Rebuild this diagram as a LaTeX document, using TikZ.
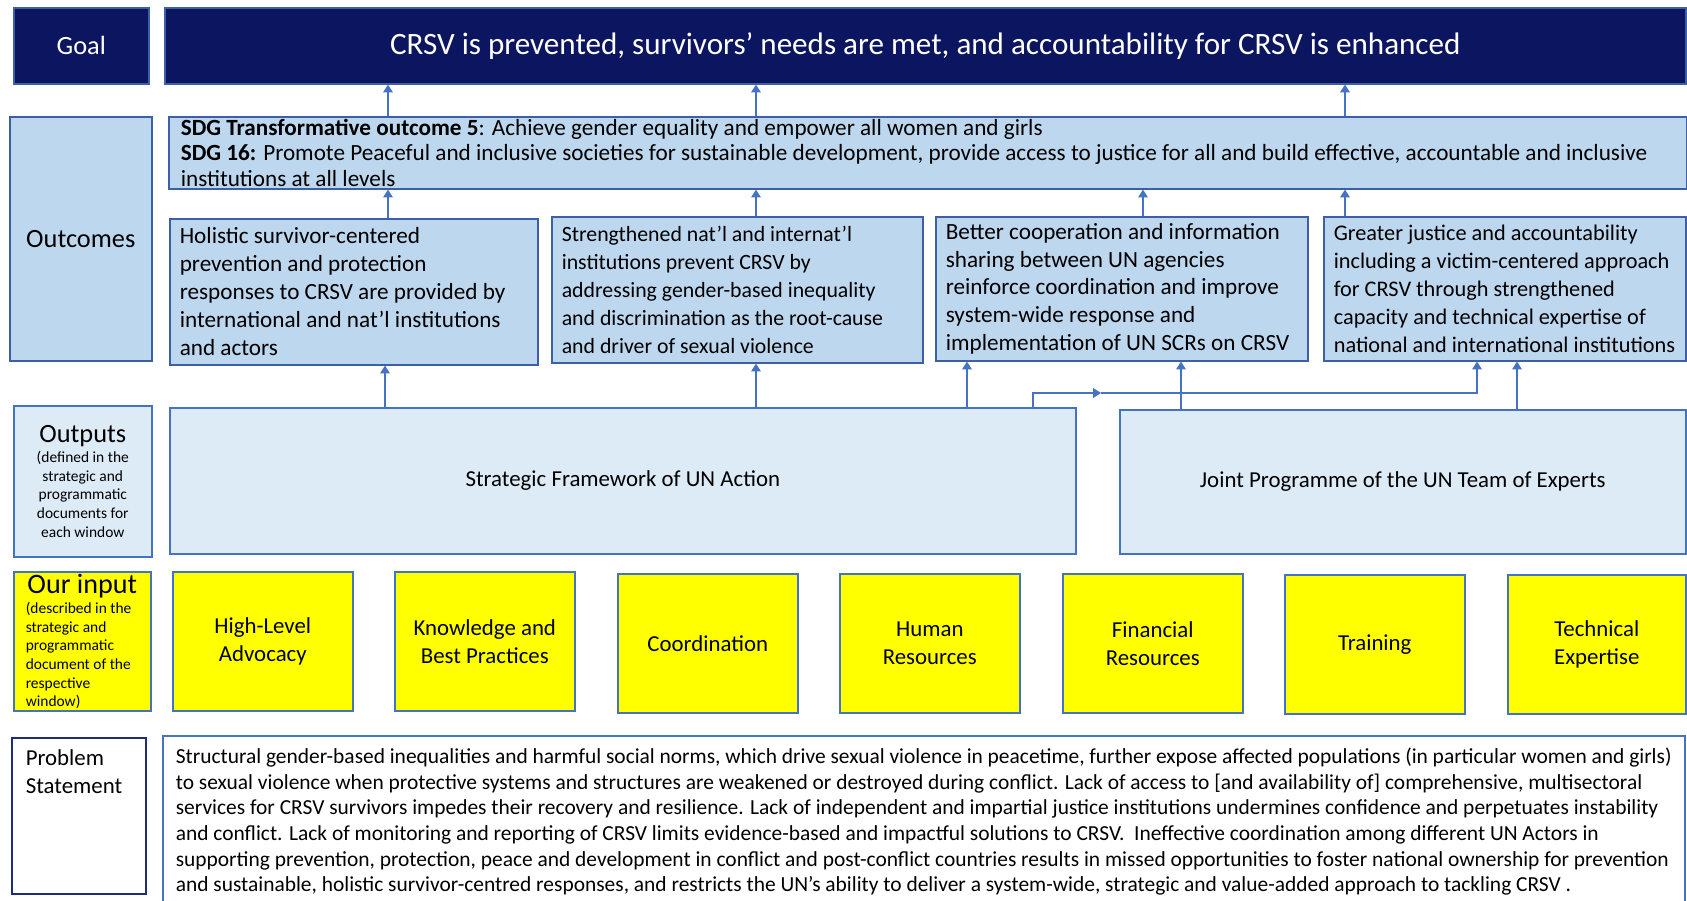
\documentclass[tikz,border=0pt]{standalone}
\usepackage{fontspec}
\setmainfont{Carlito}
\usetikzlibrary{positioning}
\usetikzlibrary{arrows.meta}

\definecolor{goalnavy}{HTML}{0B1560}
\definecolor{edgeblue}{HTML}{3D5FA6}
\definecolor{arrowblue}{HTML}{4472C4}
\definecolor{outcomefill}{HTML}{BDD7EE}
\definecolor{outputfill}{HTML}{DDEBF7}
\definecolor{inputfill}{HTML}{FFFF00}
\definecolor{labelnavy}{HTML}{1F2C7C}

% one pixel of the reference
\newdimen\pxu \pxu=0.02cm

\newcommand{\bigfont}{\fontsize{15pt}{18pt}\selectfont}
\newcommand{\smallfont}{\fontsize{8.8pt}{10.6pt}\selectfont}

\begin{document}
\begin{tikzpicture}[x=\pxu,y=-\pxu,
% Box styles
    panel/.style={rectangle,draw=edgeblue,line width=0.9pt,anchor=north west,
		inner sep=0pt,text=black},
    goalbox/.style={panel,fill=goalnavy,text=white,align=center,minimum height=76\pxu},
    outcomebox/.style={panel,fill=outcomefill,align=flush left,inner xsep=10\pxu,
		font={\fontsize{13.2pt}{15.9pt}\selectfont}},
    outputbox/.style={panel,draw=arrowblue,fill=outputfill,align=center},
    inputbox/.style={panel,draw=arrowblue,fill=inputfill,align=center,
		minimum width=180\pxu,minimum height=139\pxu},
    problembox/.style={panel,draw=arrowblue,fill=white,align=flush left},
% Arrow style
    link/.style={draw=arrowblue,line width=0.85pt,-{Triangle[width=5.5pt,length=4.5pt]}},
    font={\fontsize{13pt}{15.9pt}\selectfont}
    ]
  \useasboundingbox (0,0) rectangle (1687,901);
  \clip (0,0) rectangle (1687,901);

  % Goal
  \node (goallab) [goalbox,minimum width=135\pxu] at (13,7) {\bigfont Goal};
  \node (goal) [goalbox,minimum width=1521\pxu] at (164,7)
    {\fontsize{17.7pt}{21pt}\selectfont CRSV is prevented, survivors’ needs are met, and accountability for CRSV is enhanced};

  % Outcomes
  \node (outclab) [outcomebox,align=center,inner xsep=0pt,minimum width=142\pxu,minimum height=244\pxu,font=\bigfont] at (9,116) {Outcomes};
  \node (sdg) [outcomebox,text width=1494\pxu,inner xsep=12\pxu,minimum height=72\pxu,font={\fontsize{13.2pt}{14.6pt}\selectfont}] at (168,116)
    {\textbf{SDG Transformative outcome 5}: Achieve gender equality and empower all women and girls\\
     \textbf{SDG 16:} Promote Peaceful and inclusive societies for sustainable development, provide access to justice for all and build effective, accountable and inclusive\\
     institutions at all levels};
  \node (oc1) [outcomebox,text width=348\pxu,minimum height=146\pxu] at (169,218)
    {Holistic survivor-centered\\prevention and protection\\responses to CRSV are provided by\\international and nat’l institutions\\and actors};
  \node (oc2) [outcomebox,text width=351\pxu,minimum height=146\pxu,font={\fontsize{12.4pt}{15.9pt}\selectfont}] at (551,216)
    {Strengthened nat’l and internat’l\\institutions prevent CRSV by\\addressing gender-based inequality\\and discrimination as the root-cause\\and driver of sexual violence};
  \node (oc3) [outcomebox,text width=352\pxu,minimum height=144\pxu] at (935,216)
    {Better cooperation and information\\sharing between UN agencies\\reinforce coordination and improve\\system-wide response and\\implementation of UN SCRs on CRSV};
  \node (oc4) [outcomebox,text width=342\pxu,minimum height=144\pxu,font={\fontsize{12.7pt}{15.9pt}\selectfont}] at (1323,216)
    {Greater justice and accountability\\including a victim-centered approach\\for CRSV through strengthened\\capacity and technical expertise of\\national and international institutions};

  % Outputs
  \node (outplab) [outputbox,align=flush center,text width=138\pxu,minimum height=151\pxu] at (13,405)
    {{\bigfont Outputs}\\[1pt]\smallfont (defined in the\\strategic and\\programmatic\\documents for\\each window\par};
  \node (sf) [outputbox,minimum width=906\pxu,minimum height=146\pxu] at (169,407) {Strategic Framework of UN Action};
  \node (jp) [outputbox,minimum width=566\pxu,minimum height=144\pxu] at (1119,409) {Joint Programme of the UN Team of Experts};

  % Our input
  \node (inlab) [inputbox,align=flush left,text width=113\pxu,inner xsep=12\pxu,minimum width=137\pxu] at (13,571)
    {\makebox[\linewidth][c]{\fontsize{16pt}{18pt}\selectfont Our input}\\[1pt]
     \smallfont (described in the\\strategic and\\programmatic\\document of the\\respective\\window)\par};
  \node (in1) [inputbox] at (172,571) {High-Level\\Advocacy};
  \node (in2) [inputbox] at (394,571) {Knowledge and\\Best Practices};
  \node (in3) [inputbox] at (617,573) {Coordination};
  \node (in4) [inputbox] at (839,573) {Human\\Resources};
  \node (in5) [inputbox] at (1062,573) {Financial\\Resources};
  \node (in6) [inputbox] at (1284,574) {Training};
  \node (in7) [inputbox,minimum width=178\pxu] at (1507,574) {Technical\\Expertise};

  % Problem statement
  \node (problab) [problembox,draw=labelnavy,inner xsep=14\pxu] at (11,737)
    {\parbox[c][156\pxu][t]{106\pxu}{\rule{0pt}{16pt}Problem\\Statement}};
  \node (prob) [problembox,text width=1496\pxu,minimum height=172\pxu,inner xsep=13\pxu,
		font={\fontsize{12.2pt}{14.6pt}\selectfont}] at (162,735)
    {Structural gender-based inequalities and harmful social norms, which drive sexual violence in peacetime, further expose affected populations (in particular women and girls)\\
     to sexual violence when protective systems and structures are weakened or destroyed during conflict. Lack of access to [and availability of] comprehensive, multisectoral\\
     services for CRSV survivors impedes their recovery and resilience. Lack of independent and impartial justice institutions undermines confidence and perpetuates instability\\
     and conflict. Lack of monitoring and reporting of CRSV limits evidence-based and impactful solutions to CRSV.\ \ Ineffective coordination among different UN Actors in\\
     supporting prevention, protection, peace and development in conflict and post-conflict countries results in missed opportunities to foster national ownership for prevention\\
     and sustainable, holistic survivor-centred responses, and restricts the UN’s ability to deliver a system-wide, strategic and value-added approach to tackling CRSV .};

  % SDG to goal
  \draw[link] (388,0 |- sdg.north) -- (388,0 |- goal.south);
  \draw[link] (756,0 |- sdg.north) -- (756,0 |- goal.south);
  \draw[link] (1345,0 |- sdg.north) -- (1345,0 |- goal.south);
  % outcomes to SDG
  \draw[link] (388,0 |- oc1.north) -- (388,0 |- sdg.south);
  \draw[link] (756,0 |- oc2.north) -- (756,0 |- sdg.south);
  \draw[link] (1143,0 |- oc3.north) -- (1143,0 |- sdg.south);
  \draw[link] (1345,0 |- oc4.north) -- (1345,0 |- sdg.south);
  % outputs to outcomes
  \draw[link] (385,0 |- sf.north) -- (385,0 |- oc1.south);
  \draw[link] (756,0 |- sf.north) -- (756,0 |- oc2.south);
  \draw[link] (967,0 |- sf.north) -- (967,0 |- oc3.south);
  \coordinate (bend) at (1101,393);
  \draw[link] (1033,0 |- sf.north) |- (bend);
  \draw[link] (bend) -| (1477,0 |- oc4.south);
  \draw[link] (1181,0 |- jp.north) -- (1181,0 |- oc3.south);
  \draw[link] (1517,0 |- jp.north) -- (1517,0 |- oc4.south);

\end{tikzpicture}
\end{document}
